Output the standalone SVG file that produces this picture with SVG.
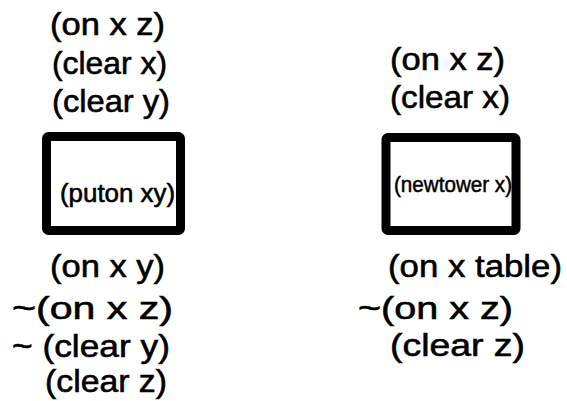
<svg xmlns="http://www.w3.org/2000/svg" width="567" height="401" viewBox="0 0 567 401">
<style>
.t{font-family:"Liberation Sans",Arial,sans-serif;font-size:32px;fill:#000;stroke:#000;stroke-width:0.6px}
.s{font-size:26px}
.xs{font-size:22px;stroke-width:0.5px}
.box{fill:#fff;stroke:#000;stroke-width:9;stroke-linejoin:round}
</style>
<rect width="567" height="401" fill="#fff"/>
<g id="puton">
<text class="t" x="50" y="35" textLength="115" lengthAdjust="spacingAndGlyphs">(on x z)</text>
<text class="t" x="52" y="74" textLength="115" lengthAdjust="spacingAndGlyphs">(clear x)</text>
<text class="t" x="52" y="112" textLength="118" lengthAdjust="spacingAndGlyphs">(clear y)</text>
<rect class="box" x="46.5" y="136.5" width="134" height="94" rx="2"/>
<text class="t s" x="60" y="202" textLength="115" lengthAdjust="spacingAndGlyphs">(puton xy)</text>
<text class="t" x="50" y="277" textLength="115" lengthAdjust="spacingAndGlyphs">(on x y)</text>
<text class="t" x="12" y="319" textLength="161" lengthAdjust="spacingAndGlyphs">~(on x z)</text>
<text class="t" x="12" y="357" textLength="158" lengthAdjust="spacingAndGlyphs">~ (clear y)</text>
<text class="t" x="45" y="392" textLength="122" lengthAdjust="spacingAndGlyphs">(clear z)</text>
</g>
<g id="newtower">
<text class="t" x="390" y="70" textLength="115" lengthAdjust="spacingAndGlyphs">(on x z)</text>
<text class="t" x="390" y="108" textLength="120" lengthAdjust="spacingAndGlyphs">(clear x)</text>
<rect class="box" x="386" y="137.5" width="130" height="93" rx="2"/>
<text class="t xs" x="394" y="192" textLength="118" lengthAdjust="spacingAndGlyphs">(newtower x)</text>
<text class="t" x="388" y="277" textLength="174" lengthAdjust="spacingAndGlyphs">(on x table)</text>
<text class="t" x="358" y="319" textLength="155" lengthAdjust="spacingAndGlyphs">~(on x z)</text>
<text class="t" x="390" y="356" textLength="135" lengthAdjust="spacingAndGlyphs">(clear z)</text>
</g>
<g id="connectors"></g>
</svg>
